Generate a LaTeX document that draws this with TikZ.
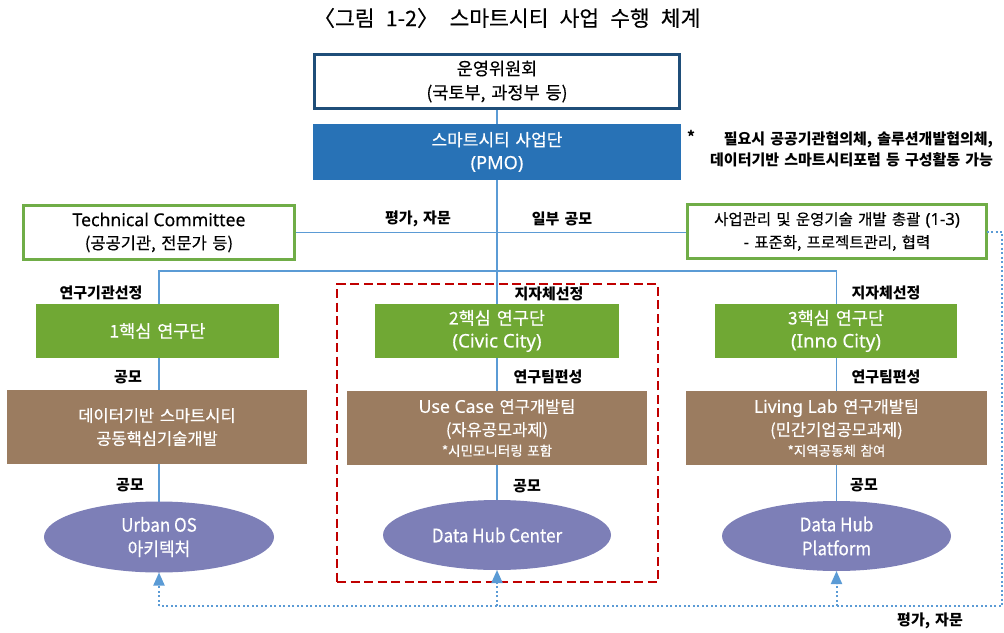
\documentclass[tikz,border=0pt]{standalone}
\usepackage{fontspec}
\setmainfont[WordSpace=1.5,UprightFeatures={FakeBold=0.4}]{Noto Sans CJK KR}
\newfontfamily\condfont[FakeStretch=0.92,FakeBold=0.4]{Noto Sans CJK KR}
\newfontfamily\titlefont[WordSpace=2.3,FakeBold=0.3]{Noto Sans CJK KR}
\newfontfamily\latfont[Scale=1.07,FakeBold=0.3]{Noto Sans}
\newcommand\lat[1]{{\latfont #1}}
\usetikzlibrary{arrows.meta,shapes.geometric,backgrounds}
\definecolor{navy}{RGB}{31,78,121}
\definecolor{pmoblue}{RGB}{40,114,182}
\definecolor{gborder}{RGB}{112,173,71}
\definecolor{gfill}{RGB}{112,168,52}
\definecolor{brownfill}{RGB}{155,124,96}
\definecolor{ellfill}{RGB}{125,127,183}
\definecolor{lineblue}{RGB}{91,155,213}
\definecolor{darkred}{RGB}{192,0,0}
\begin{document}
\begin{tikzpicture}[x=1pt,y=-1pt,
  every node/.style={inner sep=0pt,outer sep=0pt},
  bodyfont/.style={font=\fontsize{16.5}{23}\selectfont},
  wbox/.style={draw=navy,line width=3pt,fill=white,minimum width=365pt,minimum height=54pt,align=center,font=\fontsize{17.5}{24}\selectfont},
  pmobox/.style={fill=pmoblue,text=white,minimum width=368pt,minimum height=56pt,align=center,font=\fontsize{17}{23}\selectfont},
  gbox/.style={draw=gborder,line width=3pt,fill=white,minimum height=54pt,align=center,bodyfont},
  gfillbox/.style={fill=gfill,text=white,minimum height=54pt,align=center,font=\fontsize{17.5}{23}\selectfont},
  bbox/.style={fill=brownfill,text=white,minimum height=74pt,align=center,bodyfont},
  hub/.style={ellipse,fill=ellfill,text=white,minimum width=230pt,minimum height=71pt,align=center,font=\condfont\fontsize{18.5}{24}\selectfont},
  lbl/.style={font=\bfseries\fontsize{15}{18}\selectfont},
  conn/.style={draw=lineblue,line width=1.8pt},
  dotline/.style={draw=lineblue,line width=2pt,dash pattern=on 2pt off 2.5pt},
  frame/.style={draw=darkred,line width=2.5pt,dash pattern=on 9pt off 4.5pt,minimum width=321pt,minimum height=298pt}
]
\useasboundingbox (0,0) rectangle (1004,632);

\node[font=\titlefont\fontsize{21.5}{24}\selectfont] (title) at (507,18) {〈그림 1-2〉 스마트시티 사업 수행 체계};

\node[wbox] (wy) at (497,81.5) {운영위원회\\(국토부, 과정부 등)};
\node[pmobox] (pmo) at (497,152) {스마트시티 사업단\\\lat{(PMO)}};

\node[lbl] (star) at (691,136) {*};
\node[align=right,anchor=east,font=\bfseries\fontsize{15}{21}\selectfont] (note) at (993,149) {필요시 공공기관협의체, 솔루션개발협의체,\\데이터기반 스마트시티포럼 등 구성활동 가능};

\node[gbox,minimum width=271pt] (tc) at (159,232.5) {\lat{Technical Committee}\\(공공기관, 전문가 등)};
\node[gbox,minimum width=299pt,font=\fontsize{15.5}{23}\selectfont] (pm) at (837,231.5) {사업관리 및 운영기술 개발 총괄 \lat{(1-3)}\\\lat{-} 표준화, 프로젝트관리, 협력};

\node[lbl] (l1) at (418,219) {평가, 자문};
\node[lbl] (l2) at (562,219) {일부 공모};

\node[frame] (fr) at (497.5,433) {};

\node[lbl] (s1) at (101,293) {연구기관선정};
\node[lbl] (s2) at (549,294) {지자체선정};
\node[lbl] (s3) at (886,293) {지자체선정};

\node[gfillbox,minimum width=243pt] (g1) at (157.5,331) {1핵심 연구단};
\node[gfillbox,minimum width=244pt] (g2) at (497,331) {2핵심 연구단\\\lat{(Civic City)}};
\node[gfillbox,minimum width=242pt] (g3) at (836,331) {3핵심 연구단\\\lat{(Inno City)}};

\node[lbl] (t1) at (128,377) {공모};
\node[lbl] (t2) at (548,377) {연구팀편성};
\node[lbl] (t3) at (886,377) {연구팀편성};

\node[bbox,minimum width=300pt] (b1) at (157,427) {데이터기반 스마트시티\\공동핵심기술개발};
\node[bbox,minimum width=300pt] (b2) at (497,428) {\lat{Use Case} 연구개발팀\\(자유공모과제)\\[-3pt]{\fontsize{13.5}{15}\selectfont *시민모니터링 포함}};
\node[bbox,minimum width=301pt] (b3) at (836.5,428) {\lat{Living Lab} 연구개발팀\\(민간기업공모과제)\\[-3pt]{\fontsize{13.5}{15}\selectfont *지역공동체 참여}};

\node[lbl] (u1) at (130,485) {공모};
\node[lbl] (u2) at (527,486) {공모};
\node[lbl] (u3) at (864,485) {공모};

\node[hub] (hub1) at (159,537) {Urban OS\\아키텍처};
\node[hub,minimum width=228pt,minimum height=70pt] (hub2) at (497,535) {Data Hub Center};
\node[hub,minimum width=229pt,minimum height=70pt] (hub3) at (836.5,536) {Data Hub\\Platform};

\node[lbl] (l3) at (930,621) {평가, 자문};

\coordinate (j) at (497,271);
\coordinate (dr) at (1002,606);

\begin{scope}[on background layer]
  \draw[conn] (wy.south) -- (pmo.north);
  \draw[conn] (pmo.south) -- (hub2.north);
  \draw[conn] (tc.east) -- (tc.east -| pm.west);
  \draw[conn] (hub1.north) -- (hub1.north |- j) -- (hub3.north |- j) -- (hub3.north);
\end{scope}

\draw[dotline] (pm.east) -| (dr) -- (hub1.south |- dr);
\foreach \h in {hub1,hub2,hub3}{
  \draw[dotline,-{Triangle[width=11pt,length=13pt,fill=lineblue]}] (\h.south |- dr) -- (\h.south);
}
\end{tikzpicture}
\end{document}
